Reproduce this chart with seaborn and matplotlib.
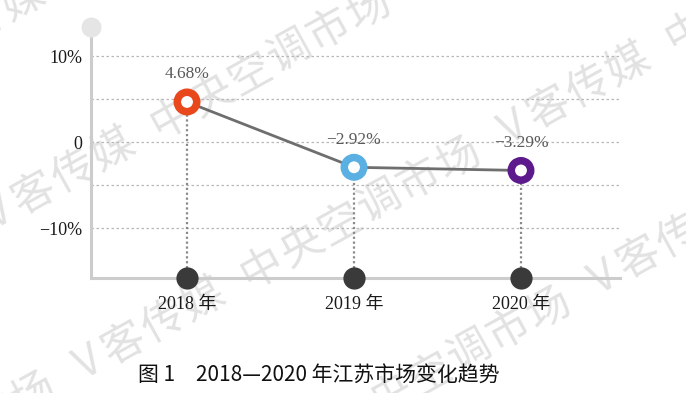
import numpy as np
import pandas as pd
import seaborn as sns
import matplotlib.pyplot as plt

# chart data
years = ["2018 年", "2019 年", "2020 年"]
growth = [4.68, -2.92, -3.29]
value_labels = ["4.68%", "\u22122.92%", "\u22123.29%"]
point_colors = ["#e8481c", "#5aafe3", "#5c1a8c"]
ytick_vals = [10, 0, -10]
ytick_labels = ["10%", "0", "\u221210%"]
grid_vals = [10, 5, 0, -5, -10]
caption = "图 1\u30002018—2020 年江苏市场变化趋势"

# watermark text (one repeat of the pattern)
wm_chars = ["中", "央", "空", "调", "市", "场", " ", "V", "客", "传", "媒", " "]
wm_steps = [1, 1, 1, 1, 1, 1, 0.5, 0.8, 1, 1, 1, 0.5]

sns.set_theme(style="white")
plt.rcParams["font.family"] = ["Liberation Serif", "Noto Sans CJK SC"]

df = pd.DataFrame({"year": years, "growth": growth, "x": range(len(years))})

W, H = 686, 393
fig = plt.figure(figsize=(W / 100, H / 100), dpi=100)
ax = fig.add_axes([91 / W, 1 - 278 / H, (620 - 91) / W, (278 - 27) / H])
ax.patch.set_alpha(0)

ylo, yhi = -15.8, 13.4
xlo, xhi = -0.575, 2.593
ax.set_xlim(xlo, xhi)
ax.set_ylim(ylo, yhi)

# dotted grid
for g in grid_vals:
    ax.axhline(g, color="#b8b8b8", lw=0.9, ls=(0, (2, 2)), zorder=1)

# drop lines to the axis
ax.vlines(df["x"], ylo, df["growth"], colors="#8a8a8a", lw=1.6,
          linestyles=(0, (1, 1.2)), zorder=2)

sns.lineplot(data=df, x="x", y="growth", color="#6e6e6e", lw=2, ax=ax, zorder=3)

# ring markers
sns.scatterplot(x=df["x"], y=df["growth"], color="white", edgecolor=point_colors,
                linewidth=5.4, s=14 ** 2, ax=ax, zorder=4, legend=False)

# dark dots on the baseline
sns.scatterplot(x=df["x"], y=[ylo] * len(df), color="#3a3a3a", linewidth=0,
                s=16 ** 2, ax=ax, zorder=5, clip_on=False, legend=False)

# light dot at the top of the y axis
ax.scatter([xlo], [yhi], s=14.4 ** 2, color="#e5e5e5", linewidth=0,
           clip_on=False, zorder=5)

for x, y, lbl in zip(df["x"], df["growth"], value_labels):
    ax.annotate(lbl, (x, y), xytext=(0, 20), textcoords="offset points",
                ha="center", va="center", fontsize=12.5, color="#5a5a5a")

sns.despine(ax=ax)
for side in ["left", "bottom"]:
    ax.spines[side].set_color("#cccccc")
    ax.spines[side].set_linewidth(2.2)

ax.set_yticks(ytick_vals, ytick_labels)
ax.set_xticks(df["x"], years)
ax.tick_params(axis="y", length=0, pad=6.5, labelsize=13, labelcolor="#1a1a1a")
ax.tick_params(axis="x", length=0, pad=13, labelsize=13, labelcolor="#1a1a1a")
ax.set_xlabel("")
ax.set_ylabel("")

fig.text(319 / W, 1 - 376 / H, caption, ha="center", va="center", fontsize=15,
         family=["Noto Sans CJK SC"], color="#111111")

# watermark, drawn behind the chart
ang = np.deg2rad(29)
step = 45
offs = np.cumsum([0] + wm_steps[:-1]) + np.array(wm_steps) / 2 - wm_steps[0] / 2
cycle = sum(wm_steps)
for ax0, ay0 in [(82, -32), (172, 118), (262, 268), (352, 418)]:
    for n in range(-5, 5):
        for ch, o in zip(wm_chars, offs):
            if ch == " ":
                continue
            s = (o + n * cycle) * step
            px = ax0 + s * np.cos(ang)
            py = ay0 - s * np.sin(ang)
            if -25 < px < W + 25 and -25 < py < H + 25:
                fig.text(px / W, 1 - py / H, ch, rotation=29, rotation_mode="anchor",
                         ha="center", va="center", fontsize=31, color="#e2e2e2",
                         family=["Noto Sans CJK SC"], zorder=-1)

fig.savefig("out.png", dpi=100)
